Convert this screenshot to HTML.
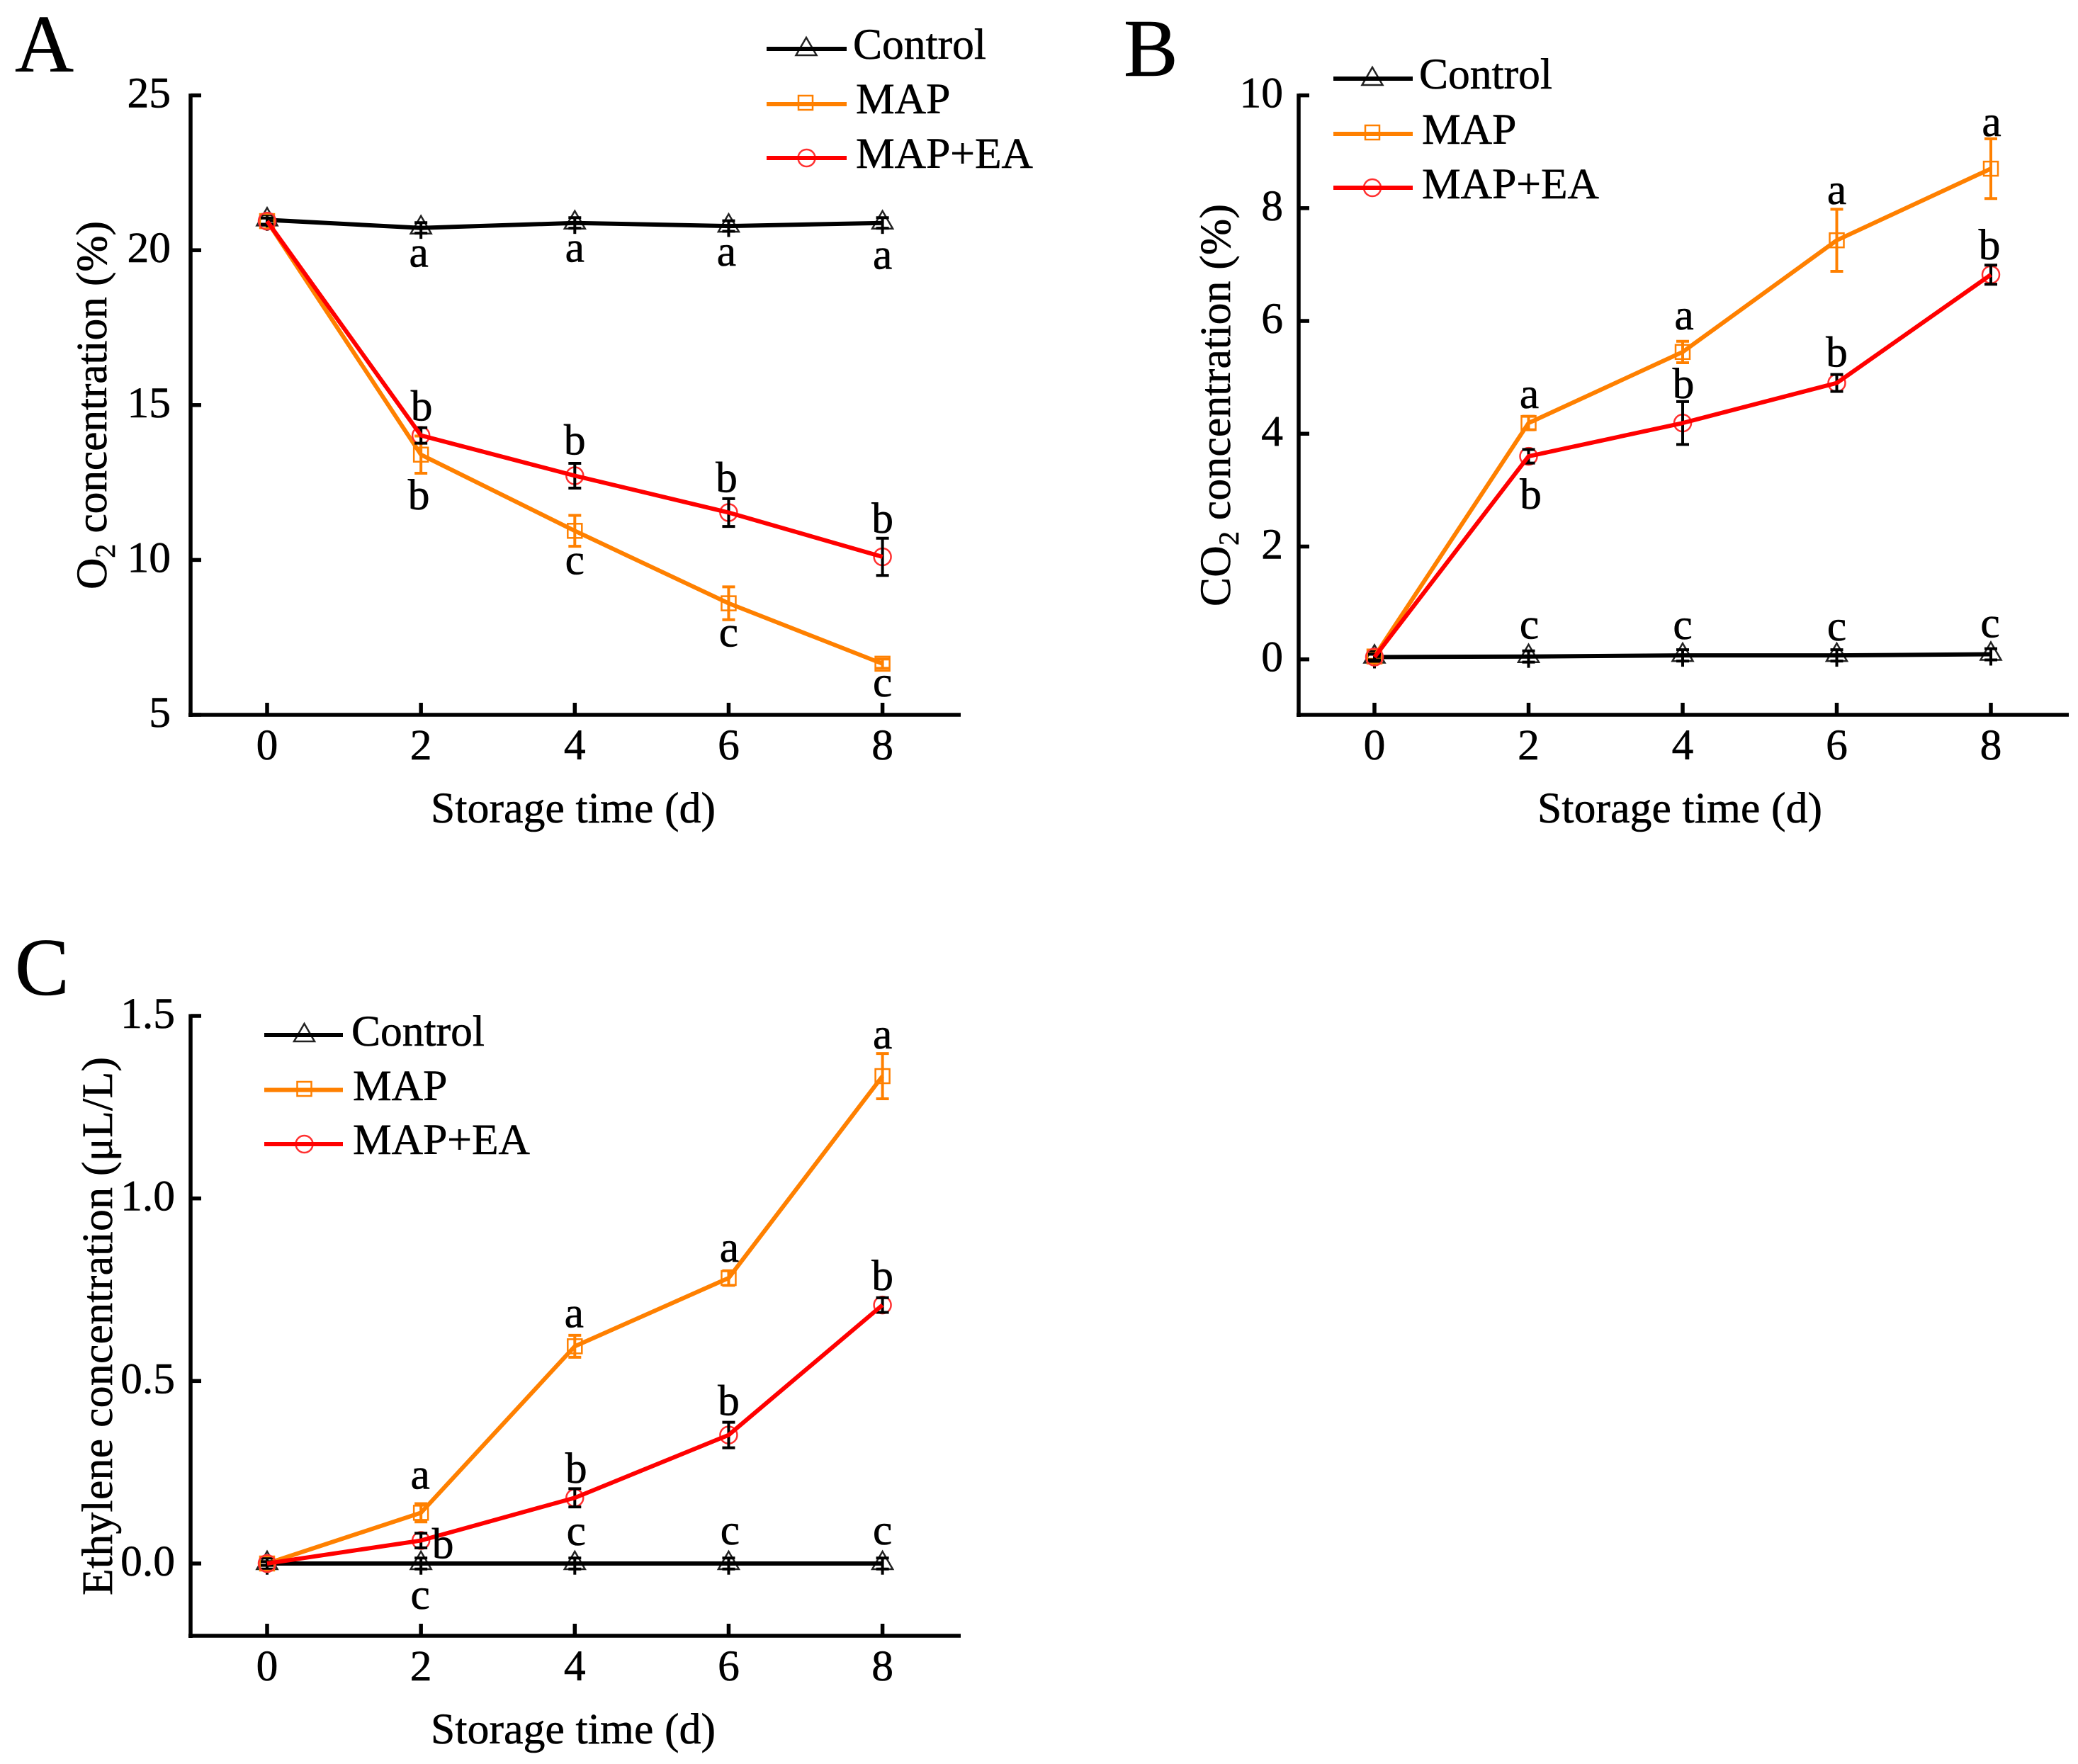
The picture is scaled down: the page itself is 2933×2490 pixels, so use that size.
<!DOCTYPE html>
<html lang="en">
<head>
<meta charset="utf-8">
<title>Gas concentrations during storage</title>
<style>
html,body{margin:0;padding:0;background:#fff;}
svg{display:block;}
text{font-family:"Liberation Serif","Times New Roman",serif;font-size:61.5px;fill:#000;stroke:#000;stroke-width:0.6px;}
.panel-letter{font-size:115px;}
</style>
</head>
<body>
<svg id="figure" xmlns="http://www.w3.org/2000/svg" width="2933" height="2490" viewBox="0 0 2933 2490">
  <rect x="0" y="0" width="2933" height="2490" fill="#fff"/>

  <g id="panel-a">
    <text class="panel-letter" x="21" y="101">A</text>
    <text x="809" y="1161" text-anchor="middle" textLength="402">Storage time (d)</text>
    <text transform="translate(150 572) rotate(-90)" text-anchor="middle" textLength="520">O<tspan font-size="40" dy="12">2</tspan><tspan dy="-12"> concentration (%)</tspan></text>
    <g>
      <g>
        <polygon points="1138,53 1152.5,78 1123.5,78" fill="none" stroke="#222" stroke-width="2.5"/>
        <line x1="1082" y1="69" x2="1195" y2="69" stroke="#000" stroke-width="6"/>
        <text x="1204" y="83">Control</text>
      </g>
      <g>
        <rect x="1127" y="135" width="20" height="20" fill="none" stroke="#FF8000" stroke-width="2.5"/>
        <line x1="1082" y1="147" x2="1195" y2="147" stroke="#FF8000" stroke-width="6"/>
        <text x="1208" y="160">MAP</text>
      </g>
      <g>
        <circle cx="1138.5" cy="223" r="12" fill="none" stroke="#FF3030" stroke-width="2.5"/>
        <line x1="1082" y1="223" x2="1195" y2="223" stroke="#FF0000" stroke-width="6"/>
        <text x="1208" y="237">MAP+EA</text>
      </g>
    </g>
  </g>

  <g id="panel-b">
    <text class="panel-letter" x="1586" y="107">B</text>
    <text x="2371" y="1161" text-anchor="middle" textLength="402">Storage time (d)</text>
    <text transform="translate(1736 572) rotate(-90)" text-anchor="middle" textLength="568">CO<tspan font-size="40" dy="12">2</tspan><tspan dy="-12"> concentration (%)</tspan></text>
    <g>
      <g>
        <polygon points="1937,95 1951.5,120 1922.5,120" fill="none" stroke="#222" stroke-width="2.5"/>
        <line x1="1882" y1="111" x2="1994" y2="111" stroke="#000" stroke-width="6"/>
        <text x="2003" y="125">Control</text>
      </g>
      <g>
        <rect x="1927" y="177" width="20" height="20" fill="none" stroke="#FF8000" stroke-width="2.5"/>
        <line x1="1882" y1="189" x2="1994" y2="189" stroke="#FF8000" stroke-width="6"/>
        <text x="2007" y="203">MAP</text>
      </g>
      <g>
        <circle cx="1937" cy="265" r="12" fill="none" stroke="#FF3030" stroke-width="2.5"/>
        <line x1="1882" y1="265" x2="1994" y2="265" stroke="#FF0000" stroke-width="6"/>
        <text x="2007" y="280">MAP+EA</text>
      </g>
    </g>
  </g>

  <g id="panel-c">
    <text class="panel-letter" x="21" y="1404">C</text>
    <text x="809" y="2461" text-anchor="middle" textLength="402">Storage time (d)</text>
    <text transform="translate(158 1872) rotate(-90)" text-anchor="middle" textLength="760">Ethylene concentration (μL/L)</text>
    <g>
      <g>
        <polygon points="429.5,1445 444,1470 415,1470" fill="none" stroke="#222" stroke-width="2.5"/>
        <line x1="373" y1="1461" x2="484" y2="1461" stroke="#000" stroke-width="6"/>
        <text x="496" y="1476">Control</text>
      </g>
      <g>
        <rect x="419.5" y="1527" width="20" height="20" fill="none" stroke="#FF8000" stroke-width="2.5"/>
        <line x1="373" y1="1538.5" x2="484" y2="1538.5" stroke="#FF8000" stroke-width="6"/>
        <text x="498" y="1553">MAP</text>
      </g>
      <g>
        <circle cx="429.5" cy="1615" r="12" fill="none" stroke="#FF3030" stroke-width="2.5"/>
        <line x1="373" y1="1615" x2="484" y2="1615" stroke="#FF0000" stroke-width="6"/>
        <text x="498" y="1629">MAP+EA</text>
      </g>
    </g>
  </g>
</svg>

<script>
// ---- Data ----
var days = [0, 2, 4, 6, 8];
var xTickLabels = ['0', '2', '4', '6', '8'];

var aYTicks = [5, 10, 15, 20, 25];
var aYTickLabels = ['5', '10', '15', '20', '25'];
var aControl = [20.98, 20.72, 20.88, 20.78, 20.88];
var aControlErr = [0.17, 0.17, 0.17, 0.17, 0.17];
var aMap = [20.94, 13.4, 10.94, 8.6, 6.65];
var aMapErr = [0.1, 0.6, 0.5, 0.53, 0.15];
var aEa = [20.94, 14.02, 12.72, 11.53, 10.1];
var aEaErr = [0.1, 0.25, 0.4, 0.45, 0.6];
var aControlLetters = ['', 'a', 'a', 'a', 'a'];
var aMapLetters = ['', 'b', 'c', 'c', 'c'];
var aEaLetters = ['', 'b', 'b', 'b', 'b'];

var bYTicks = [0, 2, 4, 6, 8, 10];
var bYTickLabels = ['0', '2', '4', '6', '8', '10'];
var bControl = [0.04, 0.05, 0.07, 0.07, 0.09];
var bControlErr = [0.1, 0.1, 0.1, 0.1, 0.1];
var bMap = [0.05, 4.19, 5.45, 7.43, 8.7];
var bMapErr = [0.05, 0.12, 0.19, 0.55, 0.53];
var bEa = [0.04, 3.6, 4.19, 4.9, 6.82];
var bEaErr = [0.05, 0.12, 0.38, 0.15, 0.17];
var bControlLetters = ['', 'c', 'c', 'c', 'c'];
var bMapLetters = ['', 'a', 'a', 'a', 'a'];
var bEaLetters = ['', 'b', 'b', 'b', 'b'];

var cYTicks = [0, 0.5, 1.0, 1.5];
var cYTickLabels = ['0.0', '0.5', '1.0', '1.5'];
var cControl = [0, 0, 0, 0, 0];
var cControlErr = [0.015, 0.015, 0.015, 0.015, 0.015];
var cMap = [0, 0.139, 0.595, 0.782, 1.335];
var cMapErr = [0.005, 0.025, 0.03, 0.02, 0.062];
var cEa = [0, 0.063, 0.18, 0.352, 0.708];
var cEaErr = [0.005, 0.02, 0.025, 0.035, 0.02];
var cControlLetters = ['', 'c', 'c', 'c', 'c'];
var cMapLetters = ['', 'a', 'a', 'a', 'a'];
var cEaLetters = ['', 'b', 'b', 'b', 'b'];

// ---- Drawing ----
var NS = 'http://www.w3.org/2000/svg';
var BLACK = '#000000', ORANGE = '#FF8000', RED = '#FF0000';

function mk(tag, attrs, parent) {
  var el = document.createElementNS(NS, tag);
  for (var k in attrs) { el.setAttribute(k, attrs[k]); }
  parent.appendChild(el);
  return el;
}

function drawAxes(root, L, yTicks, yLabels, xOf, yOf) {
  var axisG = mk('g', {}, root);
  
  

  var yAxis = mk('line', {x1: L.axisX, x2: L.axisX, y1: yOf(L.yTop) - 2.5, y2: L.axisY + 3, stroke: '#000', 'stroke-width': 5.5}, axisG);
  
  

  var xAxis = mk('line', {x1: L.axisX - 3, x2: L.axisRight, y1: L.axisY, y2: L.axisY, stroke: '#000', 'stroke-width': 5.5}, axisG);
  
  

  days.forEach(function (d, i) {
    var t = mk('line', {x1: xOf(d), x2: xOf(d), y1: L.axisY, y2: L.axisY - 17, stroke: '#000', 'stroke-width': 5.5}, axisG);
    
    
    var lab = mk('text', {x: xOf(d), y: L.axisY + 63, 'text-anchor': 'middle'}, axisG);
    lab.textContent = xTickLabels[i];
    
    
  });

  yTicks.forEach(function (v, i) {
    var t = mk('line', {x1: L.axisX, x2: L.axisX + 15, y1: yOf(v), y2: yOf(v), stroke: '#000', 'stroke-width': 5.5}, axisG);
    
    
    var lab = mk('text', {x: L.yLabelX, y: yOf(v) + 17, 'text-anchor': 'end'}, axisG);
    lab.textContent = yLabels[i];
    
    
  });
}

function drawSeries(root, name, kind, color, errColor, values, errs, xOf, yOf) {
  var g = mk('g', {}, root);
  
  

  days.forEach(function (d, i) {
    var px = xOf(d), py = yOf(values[i]), m;
    if (kind === 'triangle') {
      m = mk('polygon', {points: px + ',' + (py - 17) + ' ' + (px + 14.5) + ',' + (py + 8) + ' ' + (px - 14.5) + ',' + (py + 8), fill: 'none', stroke: '#222', 'stroke-width': 2.5}, g);
    } else if (kind === 'square') {
      m = mk('rect', {x: px - 10, y: py - 10, width: 20, height: 20, fill: 'none', stroke: color, 'stroke-width': 2.5}, g);
    } else {
      m = mk('circle', {cx: px, cy: py, r: 12, fill: 'none', stroke: '#FF3030', 'stroke-width': 2.5}, g);
    }
    
    
  });

  days.forEach(function (d, i) {
    var px = xOf(d), hi = yOf(values[i] + errs[i]), lo = yOf(values[i] - errs[i]);
    var tail = kind === 'triangle' ? 8 : 0;
    var eg = mk('g', {stroke: errColor, 'stroke-width': 4, fill: 'none'}, g);
    
    
    mk('line', {x1: px, x2: px, y1: hi - (kind === 'triangle' ? 0 : tail), y2: lo + tail}, eg);
    mk('line', {x1: px - 9, x2: px + 9, y1: hi, y2: hi}, eg);
    mk('line', {x1: px - 9, x2: px + 9, y1: lo, y2: lo}, eg);
  });

  var pts = days.map(function (d, i) { return xOf(d) + ',' + yOf(values[i]); }).join(' ');
  var line = mk('polyline', {points: pts, fill: 'none', stroke: color, 'stroke-width': 6, 'stroke-linejoin': 'round'}, g);
  
  
}

function drawLetters(root, letters, values, nudges, xOf, yOf) {
  letters.forEach(function (s, i) {
    if (!s) { return; }
    var t = mk('text', {x: xOf(days[i]) + nudges[i][0], y: yOf(values[i]) + nudges[i][1], 'text-anchor': 'middle'}, root);
    t.textContent = s;
    
    
  });
}

function drawPanel(id, L, yTicks, yLabels, control, controlErr, map, mapErr, ea, eaErr, ctlLetters, mapLetters, eaLetters) {
  var root = document.getElementById(id);
  function xOf(d) { return L.x0 + (d - days[0]) * (L.x8 - L.x0) / (days[4] - days[0]); }
  function yOf(v) { return L.yRef + (v - L.vRef) * (L.yTopPx - L.yRef) / (L.yTop - L.vRef); }
  drawAxes(root, L, yTicks, yLabels, xOf, yOf);
  drawSeries(root, 'control', 'triangle', BLACK, BLACK, control, controlErr, xOf, yOf);
  drawSeries(root, 'map', 'square', ORANGE, ORANGE, map, mapErr, xOf, yOf);
  drawSeries(root, 'map-ea', 'circle', RED, BLACK, ea, eaErr, xOf, yOf);
  drawLetters(root, ctlLetters, control, L.nudgeControl, xOf, yOf);
  drawLetters(root, mapLetters, map, L.nudgeMap, xOf, yOf);
  drawLetters(root, eaLetters, ea, L.nudgeEa, xOf, yOf);
}

drawPanel('panel-a', {
  x0: 377, x8: 1245.6, axisX: 269, axisY: 1009, axisRight: 1356, yLabelX: 241,
  vRef: 5, yRef: 1009, yTop: 25, yTopPx: 134.6,
  nudgeControl: [[0,0],[-3,55],[0,55],[-3,56],[0,65]],
  nudgeMap: [[0,0],[-3,77],[0,61],[0,61],[0,46]],
  nudgeEa: [[0,0],[1,-21],[0,-30],[-3,-29],[0,-34]]
}, aYTicks, aYTickLabels, aControl, aControlErr, aMap, aMapErr, aEa, aEaErr, aControlLetters, aMapLetters, aEaLetters);

drawPanel('panel-b', {
  x0: 1940, x8: 2810, axisX: 1833, axisY: 1009, axisRight: 2920, yLabelX: 1811,
  vRef: 0, yRef: 930.7, yTop: 10, yTopPx: 134.6,
  nudgeControl: [[0,0],[1,-25],[0,-23],[0,-21],[-1,-24]],
  nudgeMap: [[0,0],[1,-21],[2,-32],[0,-51],[1,-46]],
  nudgeEa: [[0,0],[3,74],[1,-35],[0,-23],[-2,-22]]
}, bYTicks, bYTickLabels, bControl, bControlErr, bMap, bMapErr, bEa, bEaErr, bControlLetters, bMapLetters, bEaLetters);

drawPanel('panel-c', {
  x0: 377, x8: 1245.6, axisX: 269, axisY: 2309, axisRight: 1356, yLabelX: 247,
  vRef: 0, yRef: 2207, yTop: 1.5, yTopPx: 1434,
  nudgeControl: [[0,0],[-1,64],[2,-26],[2,-27],[0,-27]],
  nudgeMap: [[0,0],[-1,-34],[-1,-27],[1,-23],[0,-39]],
  nudgeEa: [[0,0],[31,25],[2,-21],[0,-28],[0,-21]]
}, cYTicks, cYTickLabels, cControl, cControlErr, cMap, cMapErr, cEa, cEaErr, cControlLetters, cMapLetters, cEaLetters);
</script>
</body>
</html>
